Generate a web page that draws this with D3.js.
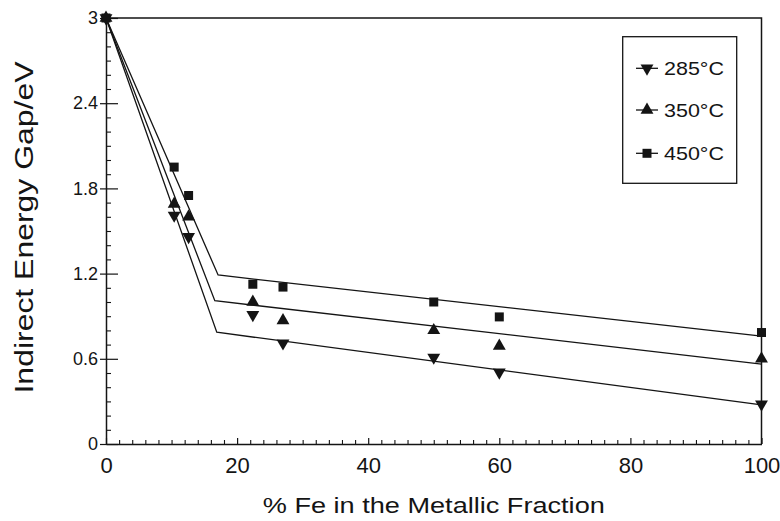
<!DOCTYPE html>
<html>
<head>
<meta charset="utf-8">
<script src="https://cdn.jsdelivr.net/npm/d3@7"></script>
<style>
  html, body { margin: 0; padding: 0; background: #fff; }
  svg { display: block; font-family: "Liberation Sans", Arial, Helvetica, sans-serif; }
</style>
</head>
<body>
<svg id="chart" width="780" height="521"></svg>
<script>
// Fe content of the metallic fraction (%)
const feContent = [0, 10.4, 12.6, 22.4, 27, 50, 60, 100];

// Measured indirect energy gap (eV) per preparation temperature
const gap285 = [3.0, 1.61, 1.46, 0.91, 0.71, 0.61, 0.505, 0.28];
const gap350 = [3.0, 1.69, 1.60, 1.00, 0.87, 0.80, 0.69, 0.60];
const gap450 = [3.0, 1.95, 1.75, 1.125, 1.105, 1.00, 0.895, 0.785];

// Two-segment trend lines (breakpoints in % Fe and eV)
const trendX285 = [0, 16.9, 100];
const trendY285 = [3.0, 0.787, 0.275];
const trendX350 = [0, 16.6, 100];
const trendY350 = [3.0, 1.009, 0.563];
const trendX450 = [0, 17.1, 100];
const trendY450 = [3.0, 1.19, 0.76];

const seriesNames = ["285°C", "350°C", "450°C"];

const xTickValues = [0, 20, 40, 60, 80, 100];
const xTickLabels = ["0", "20", "40", "60", "80", "100"];
const yTickValues = [0, 0.6, 1.2, 1.8, 2.4, 3];
const yTickLabels = ["0", "0.6", "1.2", "1.8", "2.4", "3"];

const xTitle = "% Fe in the Metallic Fraction";
const yTitle = "Indirect Energy Gap/eV";

const ink = "#141414";

const series = [
  { name: seriesNames[0], values: gap285, tx: trendX285, ty: trendY285, shape: "down" },
  { name: seriesNames[1], values: gap350, tx: trendX350, ty: trendY350, shape: "up" },
  { name: seriesNames[2], values: gap450, tx: trendX450, ty: trendY450, shape: "square" }
];

const svg = d3.select("#chart");
const plotLeft = 106, plotRight = 761.5, plotTop = 18, plotBottom = 444;

const x = d3.scaleLinear().domain([0, 100]).range([plotLeft, plotRight]);
const y = d3.scaleLinear().domain([0, 3]).range([plotBottom, plotTop]);

// Minor ticks (inward)
svg.append("g")
  .attr("transform", `translate(0,${plotBottom})`)
  .call(d3.axisBottom(x)
    .tickValues(d3.range(0, 101, 2).filter(v => v % 20 !== 0))
    .tickSizeInner(-4).tickSizeOuter(0).tickFormat(""))
  .call(g => g.select(".domain").remove())
  .selectAll("line").attr("stroke", ink).attr("stroke-width", 1.1);

svg.append("g")
  .attr("transform", `translate(${plotLeft},0)`)
  .call(d3.axisLeft(y)
    .tickValues(d3.range(1, 30).map(i => i / 10).filter(v => Math.abs(v / 0.6 - Math.round(v / 0.6)) > 1e-6))
    .tickSizeInner(-5).tickSizeOuter(0).tickFormat(""))
  .call(g => g.select(".domain").remove())
  .selectAll("line").attr("stroke", ink).attr("stroke-width", 1.1);

// Major x axis
const xAxis = svg.append("g")
  .attr("transform", `translate(0,${plotBottom})`)
  .call(d3.axisBottom(x)
    .tickValues(xTickValues)
    .tickSizeInner(-6).tickSizeOuter(0).tickPadding(13)
    .tickFormat((d, i) => xTickLabels[i]));
xAxis.select(".domain").attr("stroke", ink).attr("stroke-width", 1.5);
xAxis.selectAll("line").attr("stroke", ink).attr("stroke-width", 1.2);
xAxis.selectAll("text").attr("font-size", 22).attr("fill", ink)
  .attr("font-family", "'Liberation Sans', Arial, sans-serif");

// Major y axis (ticks cross the axis line)
const yAxis = svg.append("g")
  .attr("transform", `translate(${plotLeft},0)`)
  .call(d3.axisLeft(y)
    .tickValues(yTickValues)
    .tickSizeInner(6).tickSizeOuter(0).tickPadding(2)
    .tickFormat((d, i) => yTickLabels[i]));
yAxis.select(".domain").attr("stroke", ink).attr("stroke-width", 1.5);
yAxis.selectAll(".tick line").attr("x1", 12).attr("stroke", ink).attr("stroke-width", 1.2);
yAxis.selectAll("text").attr("font-size", 18).attr("fill", ink)
  .attr("font-family", "'Liberation Sans', Arial, sans-serif");

// Top and right frame
svg.append("path")
  .attr("d", `M${plotLeft},${plotTop}H${plotRight}V${plotBottom}`)
  .attr("fill", "none").attr("stroke", ink).attr("stroke-width", 1.5);

// Trend lines
const line = d3.line().x(d => x(d[0])).y(d => y(d[1]));
svg.append("g").selectAll("path")
  .data(series)
  .join("path")
  .attr("d", s => line(s.tx.map((v, i) => [v, s.ty[i]])))
  .attr("fill", "none").attr("stroke", ink).attr("stroke-width", 1.3);

// Markers
function symbolFor(shape) {
  if (shape === "square") return d3.symbol(d3.symbolSquare, 81)();
  return d3.symbol(d3.symbolTriangle, 72)();
}
function rotFor(shape) { return shape === "down" ? " rotate(180)" : ""; }

series.forEach(s => {
  svg.append("g").selectAll("path")
    .data(s.values.map((v, i) => [feContent[i], v]))
    .join("path")
    .attr("d", symbolFor(s.shape))
    .attr("transform", d => `translate(${x(d[0])},${y(d[1])})${rotFor(s.shape)}`)
    .attr("fill", ink);
});

// Legend
const legend = svg.append("g");
legend.append("rect")
  .attr("x", 622.7).attr("y", 36.7).attr("width", 114).attr("height", 146.6)
  .attr("fill", "#fff").attr("stroke", ink).attr("stroke-width", 1.3);
const legendY = [68.3, 110, 153.3];
series.forEach((s, i) => {
  const g = legend.append("g").attr("transform", `translate(0,${legendY[i]})`);
  g.append("line").attr("x1", 636).attr("x2", 658).attr("y1", 0).attr("y2", 0)
    .attr("stroke", ink).attr("stroke-width", 1.3);
  g.append("path").attr("d", symbolFor(s.shape))
    .attr("transform", `translate(647,0)${rotFor(s.shape)}`).attr("fill", ink);
  g.append("text").attr("x", 664).attr("y", 6.7)
    .attr("font-size", 18.5).attr("fill", ink)
    .attr("textLength", 60).attr("lengthAdjust", "spacingAndGlyphs")
    .text(s.name);
});

// Axis titles
svg.append("text")
  .attr("x", 433.8).attr("y", 513)
  .attr("text-anchor", "middle").attr("font-size", 22).attr("fill", ink)
  .attr("textLength", 342).attr("lengthAdjust", "spacingAndGlyphs")
  .text(xTitle);

svg.append("text")
  .attr("transform", "translate(33,227.5) rotate(-90)")
  .attr("text-anchor", "middle").attr("font-size", 25).attr("fill", ink)
  .attr("textLength", 332).attr("lengthAdjust", "spacingAndGlyphs")
  .text(yTitle);
</script>
</body>
</html>
